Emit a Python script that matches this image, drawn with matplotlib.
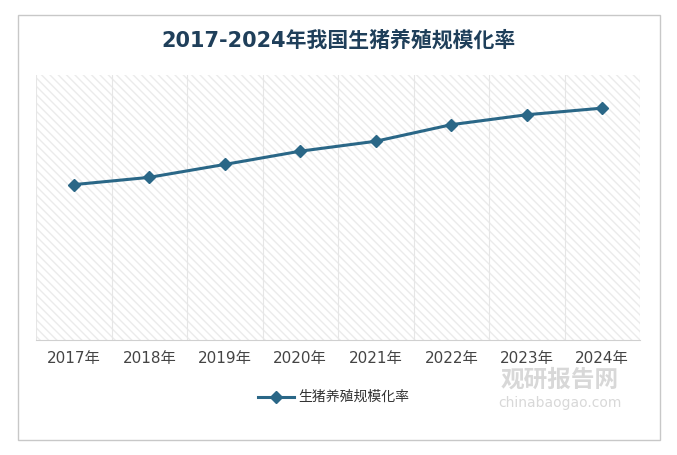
import matplotlib.pyplot as plt
from matplotlib import font_manager
from matplotlib.patches import Rectangle

# pick an installed CJK font by scanning the font files
cjk = [f for f in font_manager.findSystemFonts() if 'CJK' in f or 'cjk' in f.lower()]
if cjk:
    font_manager.fontManager.addfont(cjk[0])
    name = font_manager.FontProperties(fname=cjk[0]).get_name()
    plt.rcParams['font.family'] = ['DejaVu Sans', name]
else:
    plt.rcParams['font.family'] = ['DejaVu Sans', 'Noto Sans CJK SC']

years = ['2017年', '2018年', '2019年', '2020年', '2021年', '2022年', '2023年', '2024年']
rate = [46.9, 49.1, 53.0, 57.0, 60.0, 65.0, 68.0, 70.0]

fig = plt.figure(figsize=(6.77, 4.55), dpi=100)
fig.patches.append(Rectangle((18 / 677, 1 - 440 / 455), 642 / 677, 425 / 455,
                             transform=fig.transFigure, fill=False,
                             edgecolor='#c8c8c8', lw=1))
ax = fig.add_axes([36 / 677, 1 - 340 / 455, 604 / 677, 265 / 455])

ax.add_patch(Rectangle((0, 0), 1, 1, transform=ax.transAxes, facecolor='white',
                       hatch='\\\\\\\\', edgecolor='#ebebeb', lw=0, zorder=0))
x = list(range(len(years)))
ax.plot(x, rate, color='#2a6787', lw=2.2, marker='D', markersize=6, zorder=3)
ax.set_xlim(-0.5, len(years) - 0.5)
ax.set_ylim(0, 80)
for b in range(len(years) + 1):
    ax.axvline(b - 0.5, color='#e6e6e6', lw=0.8, zorder=1)
ax.set_xticks(x)
ax.set_xticklabels(years, fontsize=11, color='#444444')
ax.tick_params(axis='x', length=0, pad=8)
ax.set_yticks([])
for s in ax.spines.values():
    s.set_visible(False)
ax.spines['bottom'].set_visible(True)
ax.spines['bottom'].set_color('#d0d0d0')

fig.text(0.5, 1 - 40 / 455, '2017-2024年我国生猪养殖规模化率', ha='center', va='center',
         fontsize=15, fontweight='bold', color='#1f3f5a')
lx, ly = 258 / 677, 1 - 397 / 455
fig.lines.append(plt.Line2D([lx, lx + 36 / 677], [ly, ly], transform=fig.transFigure,
                            color='#2a6787', lw=2.2))
fig.lines.append(plt.Line2D([lx + 18 / 677], [ly], transform=fig.transFigure,
                            color='#2a6787', marker='D', markersize=6, lw=0))
fig.text(lx + 40 / 677, ly, '生猪养殖规模化率', va='center', fontsize=10, color='#333333')
fig.text(560 / 677, 1 - 380 / 455, '观研报告网', ha='center', va='center', fontsize=17,
         fontweight='bold', color='#d8d8d8')
fig.text(560 / 677, 1 - 403 / 455, 'chinabaogao.com', ha='center', va='center',
         fontsize=10, color='#d8d8d8')
fig.savefig('out.png', dpi=100)
